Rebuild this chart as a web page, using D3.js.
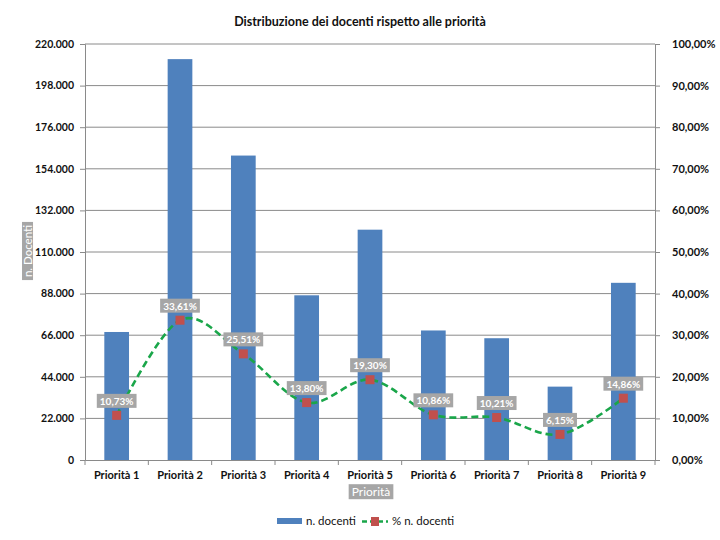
<!DOCTYPE html>
<html><head><meta charset="utf-8">
<script src="https://cdn.jsdelivr.net/npm/d3@7"></script>
<style>body{margin:0;background:#fff}svg{font-family:Lato,"Open Sans",sans-serif}</style>
</head><body><svg id="c" width="720" height="540"></svg>
<script>
const categories=["Priorità 1","Priorità 2","Priorità 3","Priorità 4","Priorità 5","Priorità 6","Priorità 7","Priorità 8","Priorità 9"];
const docenti=[67700,212000,161000,87100,121800,68500,64400,38800,93700];
const percent=[10.73,33.61,25.51,13.80,19.30,10.86,10.21,6.15,14.86];
const leftTicks=[0,22000,44000,66000,88000,110000,132000,154000,176000,198000,220000];
const rightTicks=[0,10,20,30,40,50,60,70,80,90,100];

const FONT="Lato,'Open Sans',sans-serif";
const svg=d3.select("#c");
const L=85,R=655,T=44,B=460;
const x=d3.scaleBand().domain(categories).range([L,R]).paddingInner(0.61).paddingOuter(0.305);
const xb=d3.scaleBand().domain(categories).range([L,R]);
const y=d3.scaleLinear().domain([0,220000]).range([B,T]);
const y2=d3.scaleLinear().domain([0,100]).range([B,T]);
const itNum=d3.formatLocale({decimal:",",thousands:".",grouping:[3],currency:["","€"]});
const fmtL=itNum.format(",.0f");
const fmtP=v=>itNum.format(",.2f")(v)+"%";

svg.append("text").attr("x",360).attr("y",26).attr("text-anchor","middle").attr("font-size",12.5).attr("font-weight","bold").attr("fill","#111").text("Distribuzione dei docenti rispetto alle priorità");

// gridlines
svg.append("g").selectAll("line").data(leftTicks.slice(1)).join("line")
 .attr("x1",L).attr("x2",R).attr("y1",d=>y(d)).attr("y2",d=>y(d)).attr("stroke","#8a8a8a").attr("stroke-width",1);

// bars
svg.append("g").selectAll("rect").data(docenti).join("rect")
 .attr("x",(d,i)=>x(categories[i])).attr("width",x.bandwidth())
 .attr("y",d=>y(d)).attr("height",d=>B-y(d)).attr("fill","#4f81bd");

// axes
const gl=svg.append("g").attr("transform",`translate(${L},0)`).call(d3.axisLeft(y).tickValues(leftTicks).tickFormat(fmtL).tickSize(5).tickPadding(6));
const gr=svg.append("g").attr("transform",`translate(${R},0)`).call(d3.axisRight(y2).tickValues(rightTicks).tickFormat(fmtP).tickSize(5).tickPadding(12));
const gx=svg.append("g").attr("transform",`translate(0,${B})`).call(d3.axisBottom(xb).tickSize(0).tickPadding(11));
gx.selectAll(".tick line").remove();
svg.append("g").selectAll("line").data(d3.range(categories.length+1)).join("line")
 .attr("x1",i=>L+i*xb.step()).attr("x2",i=>L+i*xb.step()).attr("y1",B).attr("y2",B+5).attr("stroke","#8a8a8a");
[gl,gr,gx].forEach(g=>{g.select(".domain").attr("stroke","#8a8a8a");g.selectAll(".tick line").attr("stroke","#8a8a8a");
 g.selectAll("text").attr("font-size",11).attr("font-weight","bold").attr("fill","#111").attr("font-family",FONT);});
gl.selectAll("text").attr("text-anchor","end").attr("font-size",10.5);
gr.selectAll("text").attr("text-anchor","start");

// axis titles
function boxLabel(g,txt,cx,cy,fs,rot,padX,padY,fw){
  const gg=g.append("g").attr("transform",`translate(${cx},${cy}) rotate(${rot})`);
  const t=gg.append("text").attr("text-anchor","middle").attr("dy","0.35em").attr("font-size",fs).attr("font-weight",fw).attr("fill","#fff").text(txt);
  const bb=t.node().getBBox();
  gg.insert("rect","text").attr("x",bb.x-padX).attr("y",bb.y-padY).attr("width",bb.width+2*padX).attr("height",bb.height+2*padY).attr("fill","#a6a6a6");
  return gg;
}
boxLabel(svg,"n. Docenti",28,251,11.5,-90,3,-1,"normal");
boxLabel(svg,"Priorità",371,492,12,0,3,0,"normal");

// line
const cx=i=>xb(categories[i])+xb.bandwidth()/2;
svg.append("path").datum(percent).attr("fill","none").attr("stroke","#1aa64a").attr("stroke-width",2.6).attr("stroke-dasharray","7,4")
 .attr("d",d3.line().x((d,i)=>cx(i)).y(d=>y2(d)).curve(d3.curveCatmullRom.alpha(0)));
svg.append("g").selectAll("rect").data(percent).join("rect")
 .attr("x",(d,i)=>cx(i)-4.5).attr("y",d=>y2(d)-4.5).attr("width",9).attr("height",9).attr("fill","#c0504d");
const lg=svg.append("g");
percent.forEach((d,i)=>boxLabel(lg,fmtP(d),cx(i),y2(d)-14,10,0,3,1,"bold"));

// legend
svg.append("rect").attr("x",277).attr("y",518).attr("width",25).attr("height",6).attr("fill","#4f81bd");
svg.append("text").attr("x",306).attr("y",525).attr("font-size",11.5).attr("fill","#111").text("n. docenti");
svg.append("line").attr("x1",362).attr("x2",388).attr("y1",521.5).attr("y2",521.5).attr("stroke","#1aa64a").attr("stroke-width",2.6).attr("stroke-dasharray","5,3");
svg.append("rect").attr("x",371).attr("y",517).attr("width",8).attr("height",9).attr("fill","#c0504d");
svg.append("text").attr("x",392).attr("y",525).attr("font-size",11.5).attr("fill","#111").text("% n. docenti");
</script></body></html>
